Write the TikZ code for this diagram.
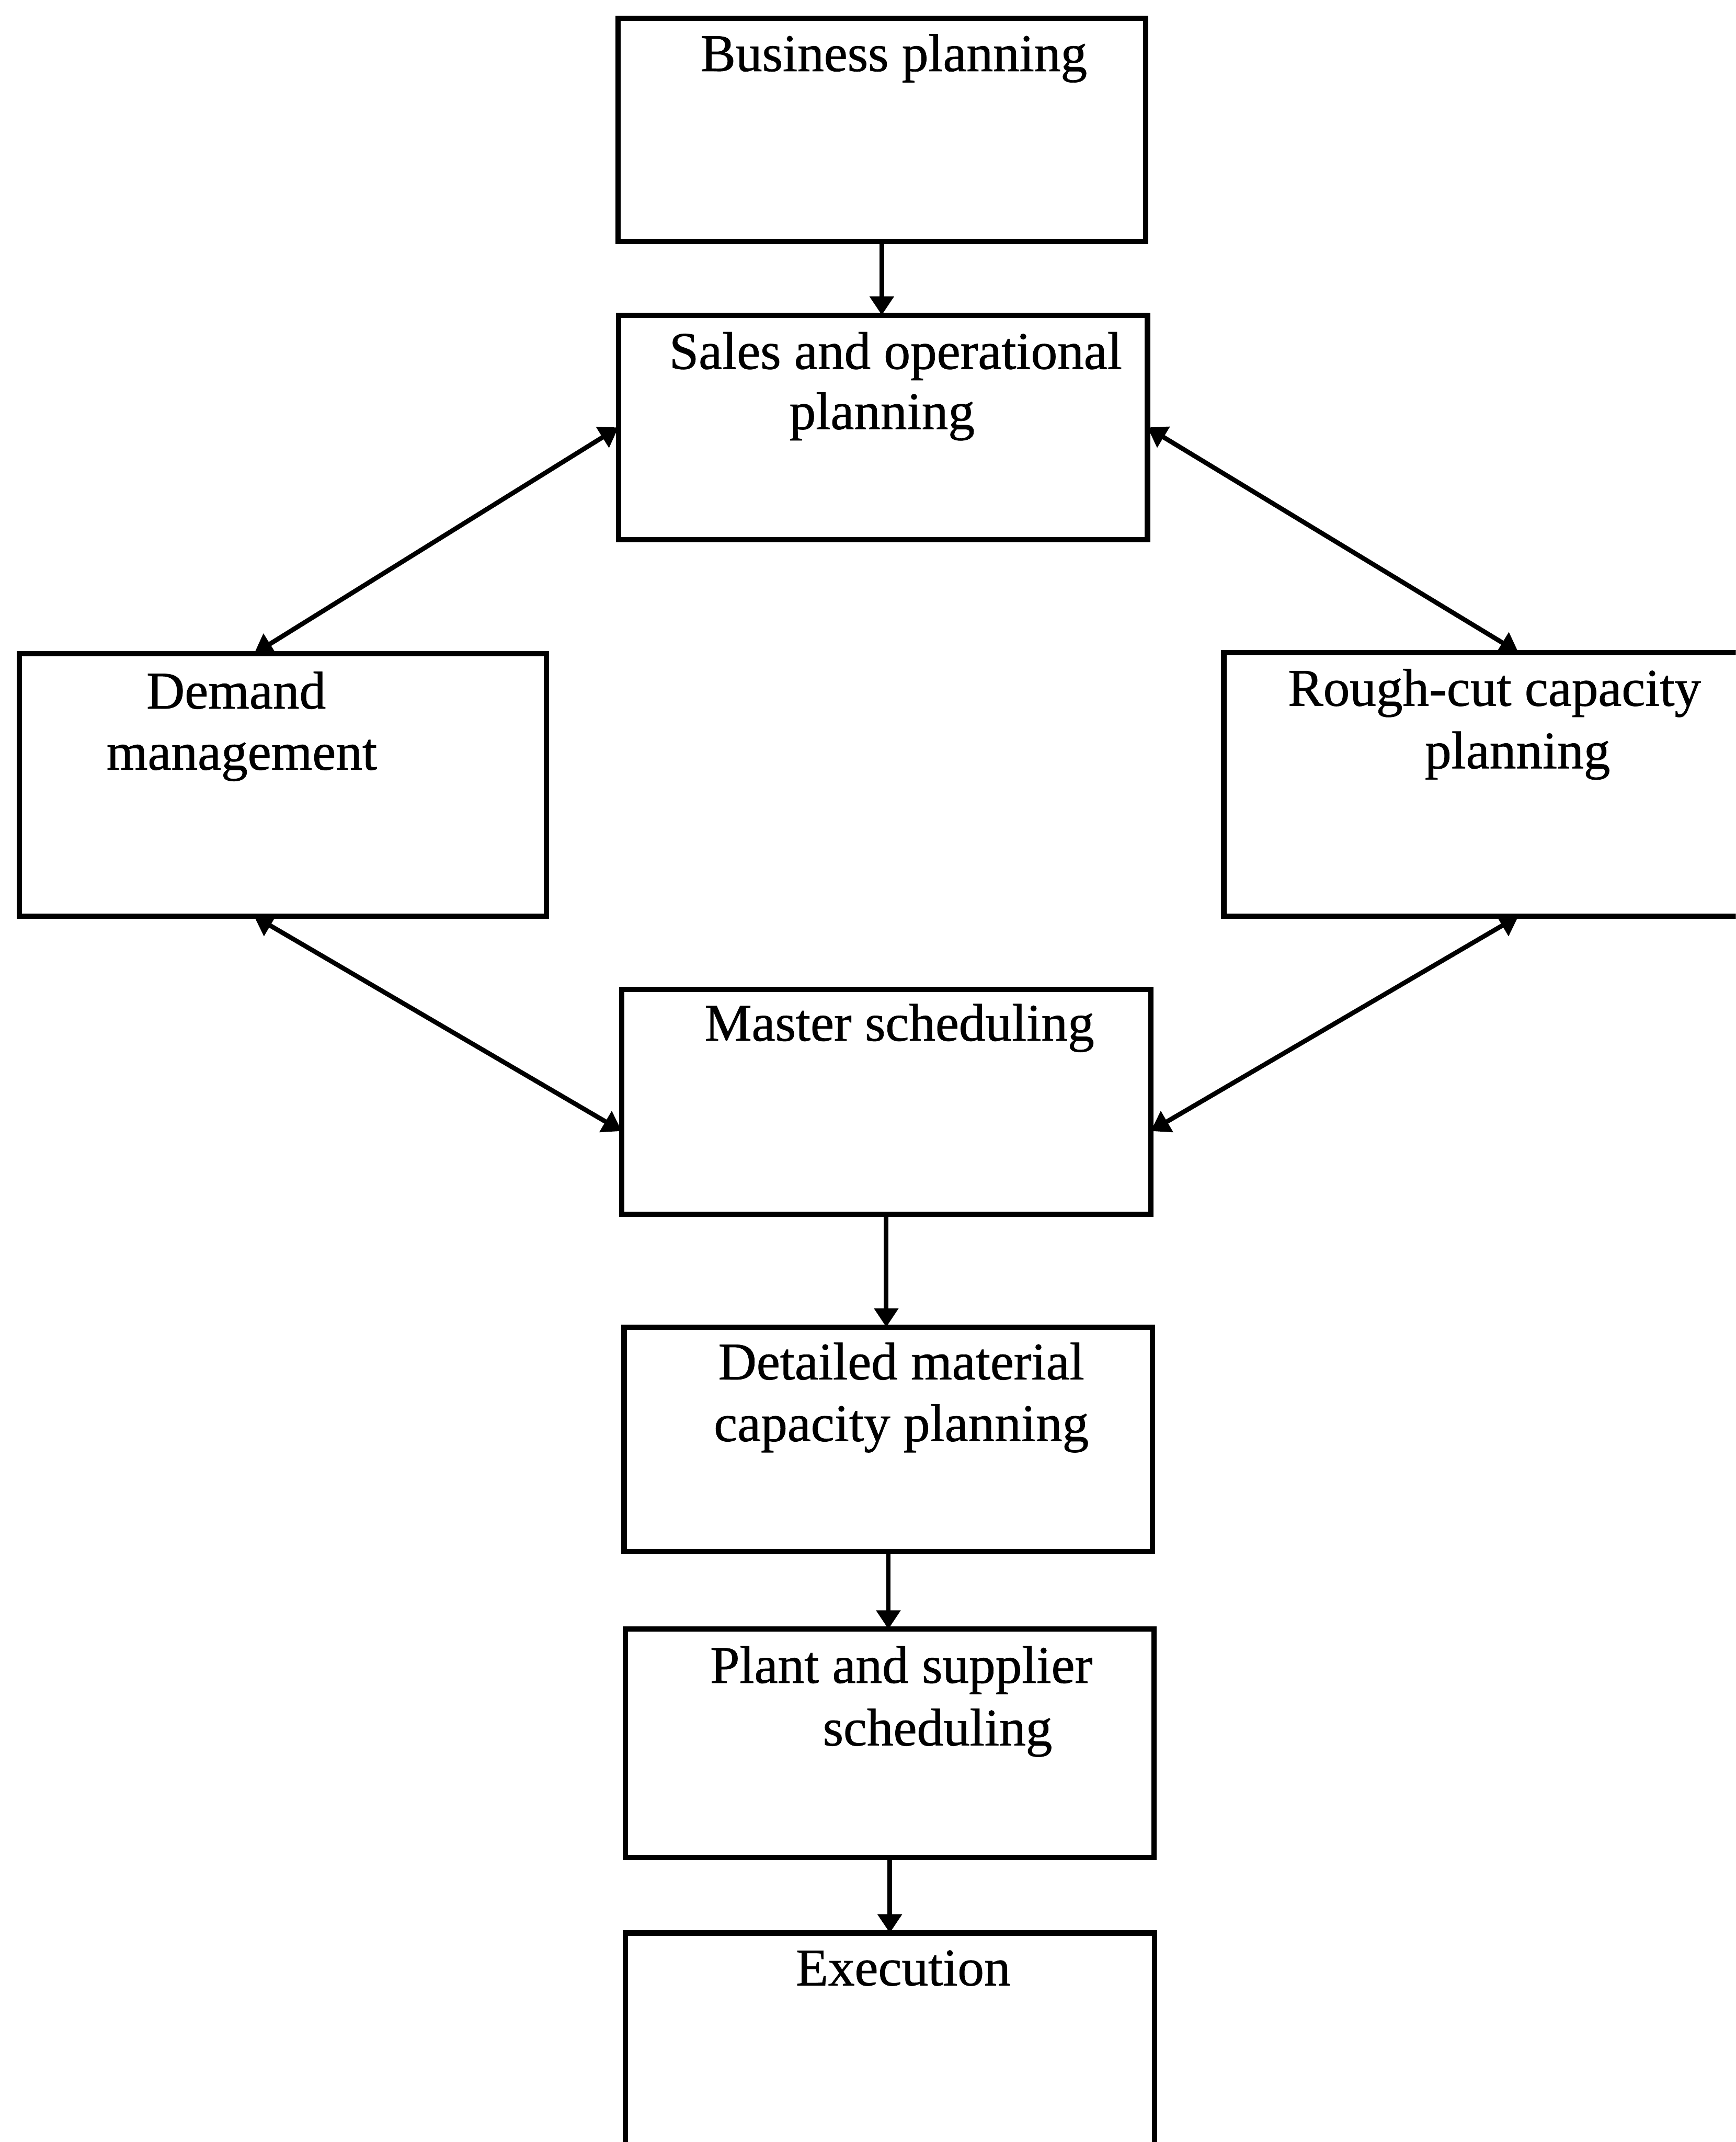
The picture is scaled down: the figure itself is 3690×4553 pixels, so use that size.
\documentclass[tikz,border=0pt]{standalone}
\usepackage{fontspec}
\setmainfont{Liberation Serif}
\newfontfamily\inkfont[FakeBold=0.8]{Liberation Serif}
\usetikzlibrary{arrows.meta,calc}
\begin{document}
\begin{tikzpicture}[x=0.01cm,y=-0.01cm,
  box/.style={draw=black, line width=3.2pt, inner sep=0pt, outer sep=0pt},
  lbl/.style={anchor=base, inner sep=0pt, font=\inkfont\fontsize{32}{38}\selectfont},
  flow/.style={line width=2.8pt, -{Triangle[length=4mm,width=5mm]}},
  duo/.style={line width=2.8pt, {Triangle[length=4mm,width=5mm]}-{Triangle[length=4mm,width=5mm]}},
]
\useasboundingbox (0,0) rectangle (3690,4553);
\fill[white] (0,0) rectangle (3690,4553);
\clip (0,0) rectangle (3690,4553);

% planning boxes
\node[box, minimum width=11.21cm, minimum height=4.74cm] (bp)  at (1874.5,276)  {};
\node[box, minimum width=11.24cm, minimum height=4.77cm] (sop) at (1877,908.5)  {};
\node[box, minimum width=11.20cm, minimum height=5.57cm] (dm)  at (601,1668.5)  {};
\node[box, minimum width=12.52cm, minimum height=5.60cm] (rc)  at (3228,1667)   {};
\node[box, minimum width=11.24cm, minimum height=4.78cm] (ms)  at (1884,2342)   {};
\node[box, minimum width=11.23cm, minimum height=4.77cm] (dmc) at (1888.5,3059.5) {};
\node[box, minimum width=11.23cm, minimum height=4.85cm] (ps)  at (1891.5,3705.5) {};
\node[box, minimum width=11.24cm, minimum height=5.92cm] (ex)  at (1892,4405)   {};

% box titles
\node[lbl] (bpT)  at (1900,151)  {Business planning};
\node[lbl] (sopA) at (1904,784)  {Sales and operational};
\node[lbl] (sopB) at (1875,912)  {planning};
\node[lbl] (dmA)  at (502,1506)  {Demand};
\node[lbl] (dmB)  at (514,1636)  {management};
\node[lbl] (rcA)  at (3177,1500) {Rough-cut capacity};
\node[lbl] (rcB)  at (3226,1633) {planning};
\node[lbl] (msT)  at (1912,2212) {Master scheduling};
\node[lbl] (dmcA) at (1916,2932) {Detailed material};
\node[lbl] (dmcB) at (1916,3063) {capacity planning};
\node[lbl] (psA)  at (1916,3577) {Plant and supplier};
\node[lbl] (psB)  at (1993,3710) {scheduling};
\node[lbl] (exT)  at (1920,4220) {Execution};

% top-down flow
\draw[flow] (bp.south)  -- (bp.south  |- sop.north);
\draw[flow] (ms.south)  -- (ms.south  |- dmc.north);
\draw[flow] (dmc.south) -- (dmc.south |- ps.north);
\draw[flow] (ps.south)  -- (ps.south  |- ex.north);

% two-way links around master scheduling
\coordinate (dmTop) at ($(dm.north west)!0.4455!(dm.north east)$);
\coordinate (dmBot) at ($(dm.south west)!0.4455!(dm.south east)$);
\coordinate (msL) at ($(ms.north west)!0.63!(ms.south west)$);
\coordinate (msR) at ($(ms.north east)!0.63!(ms.south east)$);
\draw[duo] (sop.west) -- (dmTop);
\draw[duo] (sop.east) -- (rc.north);
\draw[duo] (dmBot) -- (msL);
\draw[duo] (rc.south) -- (msR);
\end{tikzpicture}
\end{document}
